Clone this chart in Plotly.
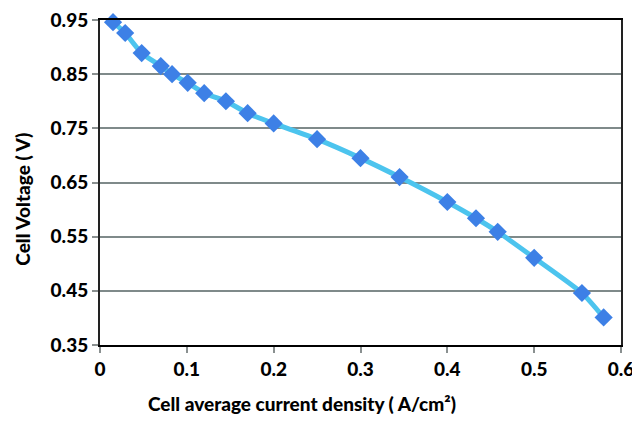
import plotly.graph_objects as go

# polarization curve
current_density = [0.015, 0.029, 0.048, 0.070, 0.083, 0.101, 0.120, 0.145, 0.170, 0.200,
                   0.250, 0.300, 0.345, 0.400, 0.433, 0.458, 0.500, 0.555, 0.580]
cell_voltage = [0.946, 0.926, 0.889, 0.865, 0.850, 0.834, 0.815, 0.800, 0.778, 0.759,
                0.730, 0.695, 0.660, 0.614, 0.584, 0.559, 0.511, 0.446, 0.401]

x_ticks = [0, 0.1, 0.2, 0.3, 0.4, 0.5, 0.6]
x_labels = ["0", "0.1", "0.2", "0.3", "0.4", "0.5", "0.6"]
y_ticks = [0.35, 0.45, 0.55, 0.65, 0.75, 0.85, 0.95]
y_labels = ["0.35", "0.45", "0.55", "0.65", "0.75", "0.85", "0.95"]

font = "Lato, Open Sans, sans-serif"

fig = go.Figure()
fig.add_trace(go.Scatter(
    x=current_density, y=cell_voltage,
    mode="lines+markers",
    line=dict(color="#4cc4ee", width=5, shape="spline", smoothing=0.6),
    marker=dict(symbol="diamond", size=14, color="#3d80e6"),
    showlegend=False,
    cliponaxis=False,
))

# the page body adds an 8px margin, so the figure is sized to what is left of the window
fig.update_layout(
    width=632, height=414,
    margin=dict(l=92, r=19, t=12, b=77),
    paper_bgcolor="white", plot_bgcolor="white",
    font=dict(family=font, color="black", weight=900),
    xaxis=dict(
        range=[0, 0.6], tickvals=x_ticks, ticktext=x_labels,
        showgrid=False, zeroline=False, automargin=False, ticklabeloverflow="allow",
        showline=True, linecolor="black", linewidth=2, mirror=True,
        ticks="outside", ticklen=6, tickwidth=2, tickcolor="#8a9090",
        tickfont=dict(size=19, family=font, weight=900),
    ),
    yaxis=dict(
        range=[0.35, 0.95], tickvals=y_ticks, ticktext=y_labels,
        showgrid=True, gridcolor="#7f8a8a", gridwidth=2, zeroline=False,
        automargin=False, ticklabeloverflow="allow",
        showline=True, linecolor="#222222", linewidth=2, mirror=True,
        ticks="outside", ticklen=6, tickwidth=2, tickcolor="#8a9090",
        tickfont=dict(size=19, family=font, weight=900),
    ),
    annotations=[
        dict(text="Cell average current density ( A/cm²)", xref="paper", yref="paper",
             x=0.388, y=-0.18, xanchor="center", yanchor="middle", showarrow=False,
             font=dict(size=19, family=font, weight=900)),
        dict(text="Cell Voltage ( V)", xref="paper", yref="paper",
             x=-0.148, y=0.45, xanchor="center", yanchor="middle", showarrow=False,
             textangle=-90, font=dict(size=19, family=font, weight=900)),
    ],
)

fig.write_html("out.html")
